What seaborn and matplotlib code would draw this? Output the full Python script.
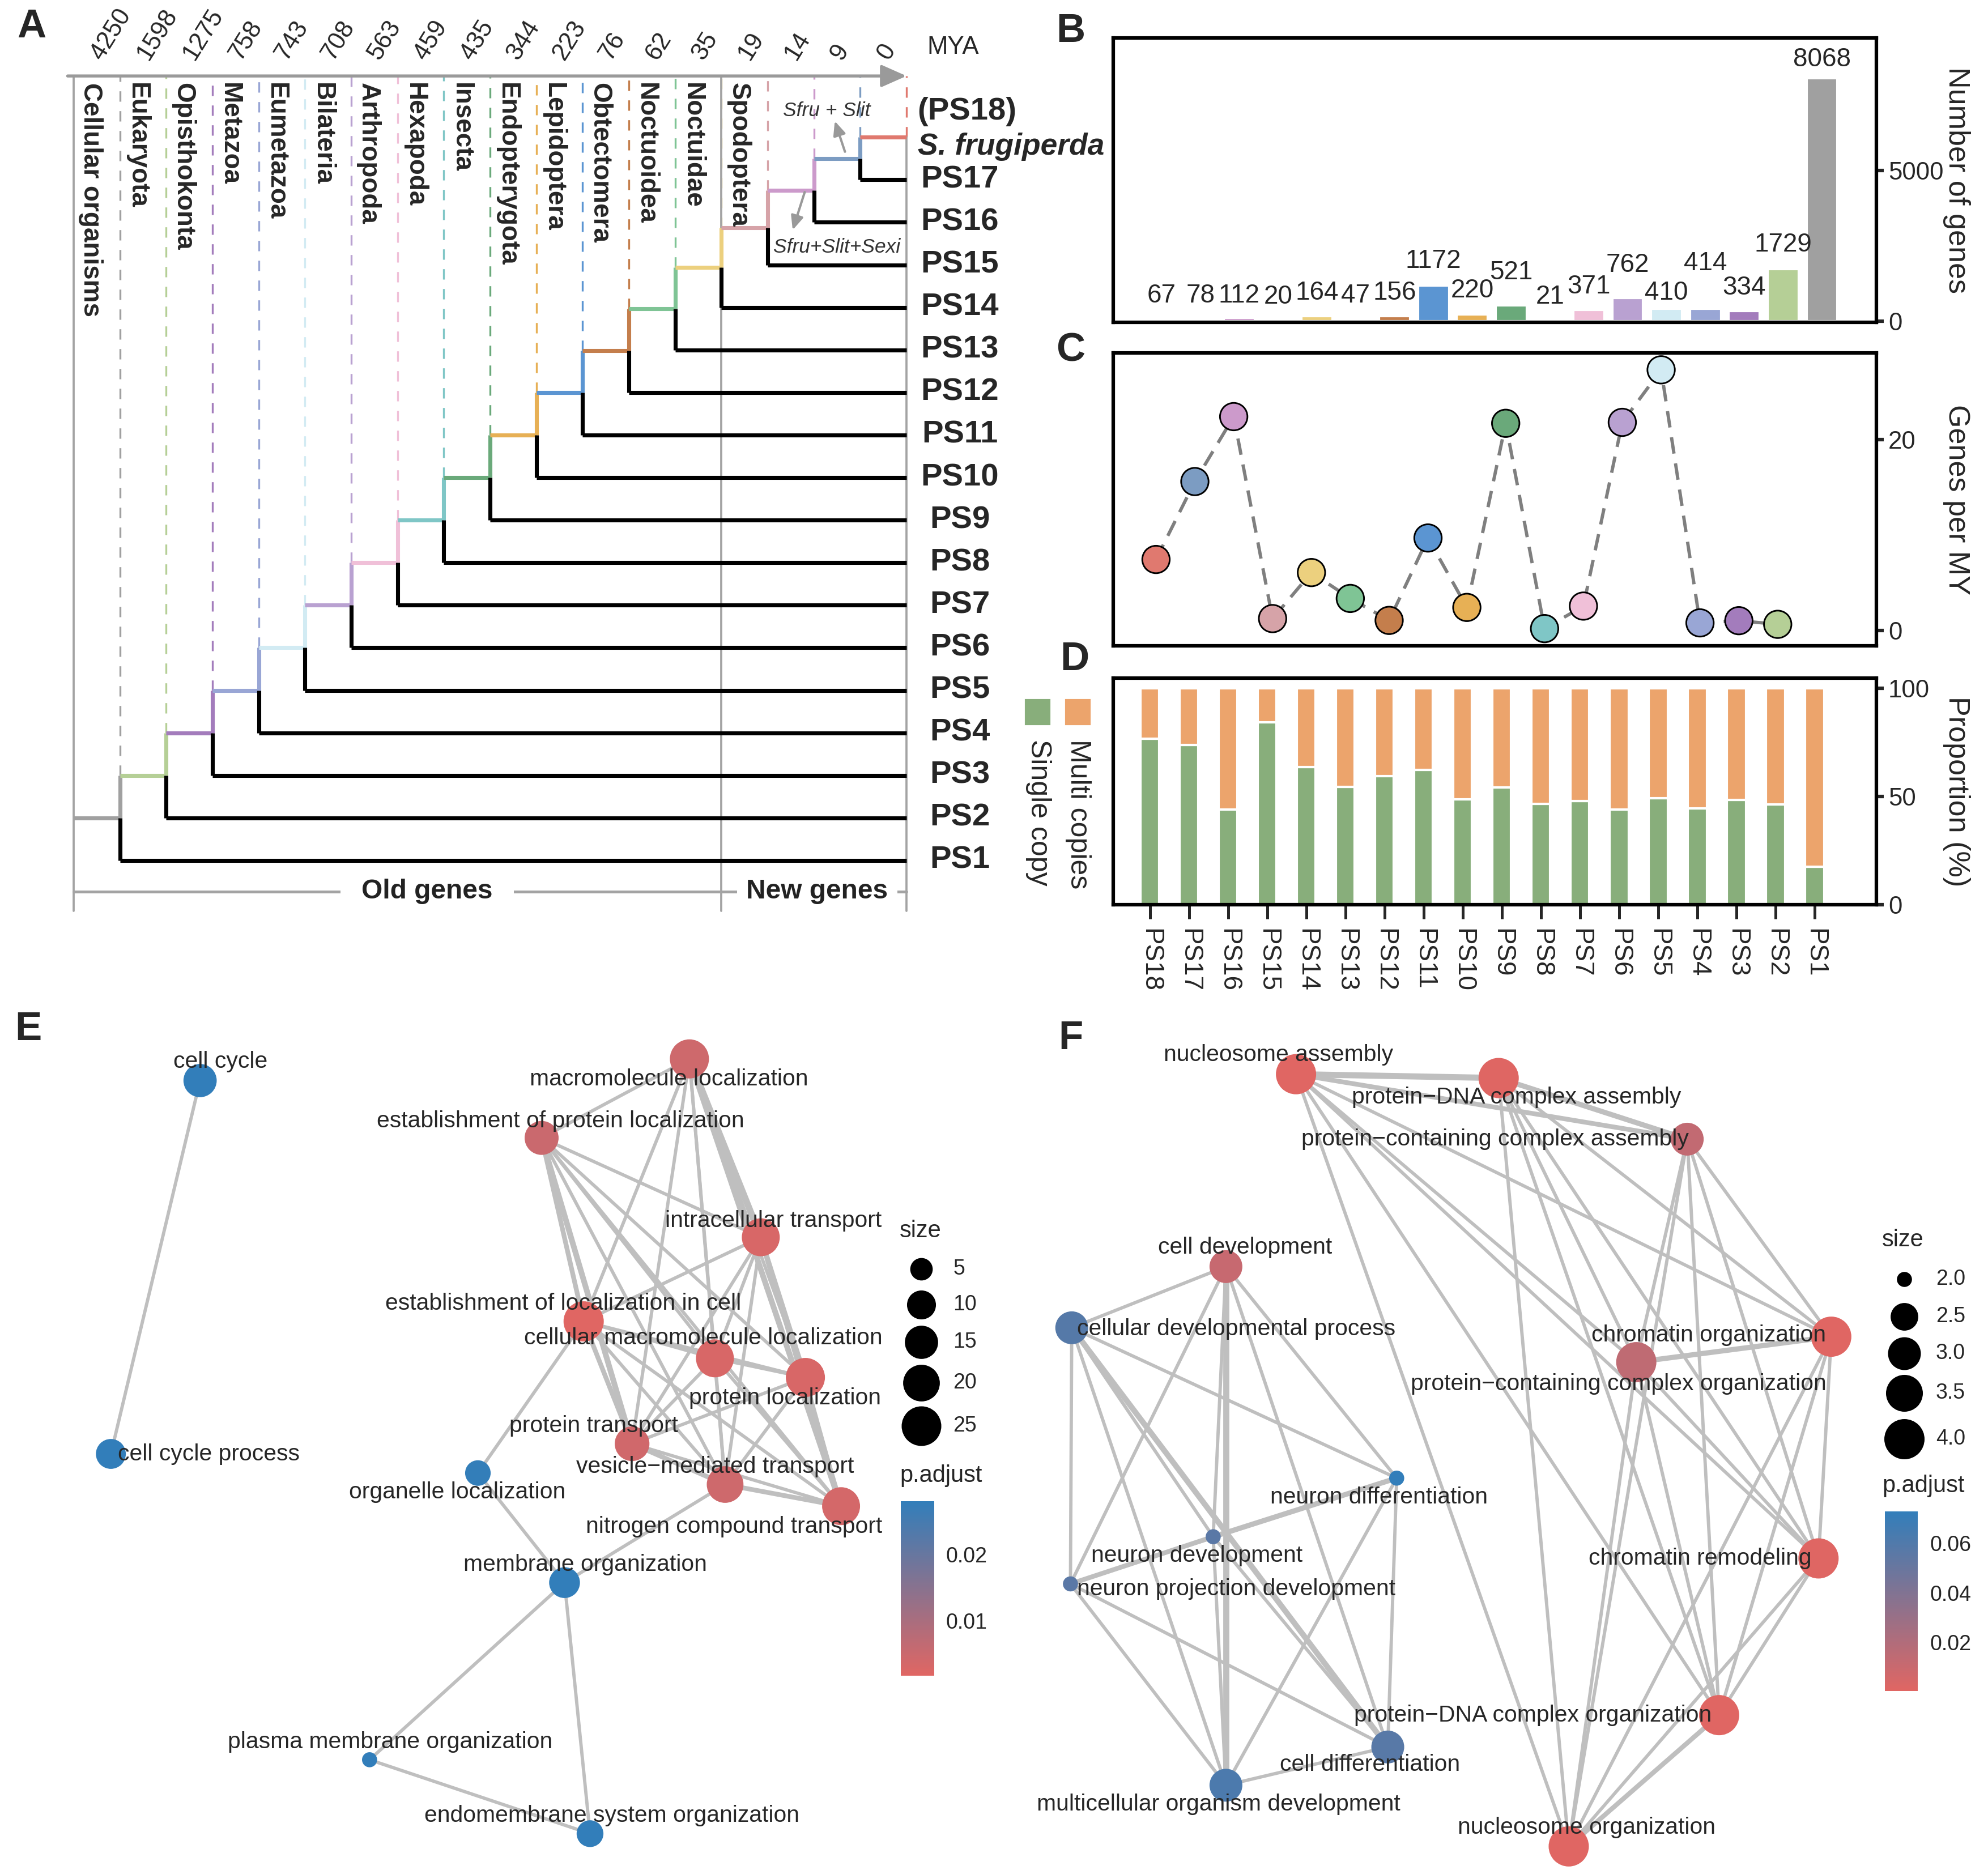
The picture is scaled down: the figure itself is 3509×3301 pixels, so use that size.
import numpy as np
import matplotlib
matplotlib.use("Agg")
import matplotlib.pyplot as plt
import matplotlib.colors as mcolors
from matplotlib.cm import ScalarMappable
from matplotlib.patches import Rectangle
import seaborn as sns

sns.set_style("white")
plt.rcParams['font.family'] = ['Liberation Sans', 'DejaVu Sans']

# ---------------- data ----------------
ps_order = ['PS18', 'PS17', 'PS16', 'PS15', 'PS14', 'PS13', 'PS12', 'PS11', 'PS10',
            'PS9', 'PS8', 'PS7', 'PS6', 'PS5', 'PS4', 'PS3', 'PS2', 'PS1']
ps_colors = ['#e0796f', '#7c9cc2', '#cc9acb', '#d6a3a8', '#ecd07e', '#7fc495', '#c47e4c',
             '#5b95d2', '#e7b055', '#6aa97a', '#7fc6c6', '#f0c0d8', '#b9a1d1', '#d2ebf3',
             '#99a6d5', '#a37cbc', '#b5cf96', '#a0a0a0']

# panel A
mya_ticks = [4250, 1598, 1275, 758, 743, 708, 563, 459, 435, 344, 223, 76, 62, 35, 19, 14, 9, 0]
taxa = ['Cellular organisms', 'Eukaryota', 'Opisthokonta', 'Metazoa', 'Eumetazoa', 'Bilateria',
        'Arthropoda', 'Hexapoda', 'Insecta', 'Endopterygota', 'Lepidoptera', 'Obtectomera',
        'Noctuoidea', 'Noctuidae', 'Spodoptera']

# panel B
gene_counts = [67, 78, 112, 20, 164, 47, 156, 1172, 220, 521, 21, 371, 762, 410, 414, 334, 1729, 8068]
# where each count label sits (same units as the counts)
count_label_y = [847, 847, 847, 805, 932, 847, 932, 1992, 1017, 1610, 805, 1144, 1864, 932,
                 1907, 1102, 2542, 8686]

# panel C (PS18..PS2)
genes_per_my = [7.44, 15.6, 22.4, 1.25, 6.07, 3.36, 1.06, 9.69, 2.42, 21.7, 0.2, 2.56, 21.8,
                27.3, 0.8, 1.03, 0.65]

# panel D
single_copy = [76.7, 73.7, 44.1, 84.3, 63.5, 54.5, 59.5, 62.2, 48.7, 54.3, 46.5, 48.0, 43.9,
               49.1, 44.5, 48.5, 46.3, 17.5]
multi_copy = [23.3, 26.3, 55.9, 15.7, 36.5, 45.5, 40.5, 37.8, 51.3, 45.7, 53.5, 52.0, 56.1,
              50.9, 55.5, 51.5, 53.7, 82.5]

# panel E network
e_terms = ['cell cycle', 'cell cycle process', 'macromolecule localization',
           'establishment of protein localization', 'intracellular transport',
           'establishment of localization in cell', 'cellular macromolecule localization',
           'protein localization', 'protein transport', 'vesicle\u2212mediated transport',
           'nitrogen compound transport', 'organelle localization', 'membrane organization',
           'plasma membrane organization', 'endomembrane system organization']
e_x = [157, 87, 541, 425, 597, 458, 561, 632, 496, 569, 660, 375, 443, 290, 463]
e_y = [848, 1141, 831, 893, 971, 1037, 1066, 1081, 1133, 1165, 1182, 1156, 1242, 1381, 1439]
e_size = [15, 11, 24, 16, 22, 26, 22, 24, 17, 20, 22, 7, 12, 3, 8]
e_padj = [0.0281, 0.0281, 0.0045, 0.0050, 0.0030, 0.0017, 0.0030, 0.0030, 0.0042, 0.0045,
          0.0035, 0.0278, 0.0281, 0.0281, 0.0281]
e_lab_x = [173, 164, 525, 440, 607, 442, 552, 616, 466, 561, 576, 359, 459, 306, 480]
e_lab_y = [833, 1141, 847, 880, 958, 1023, 1050, 1097, 1119, 1151, 1198, 1171, 1228, 1367, 1425]
e_cluster = [2, 3, 4, 5, 6, 7, 8, 9, 10]
e_extra_edges = [(0, 1), (5, 11), (9, 12), (11, 12), (12, 13), (12, 14), (13, 14)]
e_thick = {(2, 4): 2.8, (2, 10): 2.4, (3, 8): 2.4, (4, 10): 2.2, (4, 7): 2.0, (3, 5): 2.0,
           (5, 8): 2.0, (8, 9): 2.0, (9, 10): 2.0}

# panel F network
f_terms = ['nucleosome assembly', 'protein\u2212DNA complex assembly',
           'protein\u2212containing complex assembly', 'cell development',
           'cellular developmental process', 'chromatin organization',
           'protein\u2212containing complex organization', 'neuron differentiation',
           'neuron development', 'neuron projection development', 'chromatin remodeling',
           'protein\u2212DNA complex organization', 'cell differentiation',
           'multicellular organism development', 'nucleosome organization']
f_x = [1017, 1176, 1324, 962, 841, 1437, 1284, 1096, 952, 840, 1427, 1349, 1089, 962, 1231]
f_y = [843, 846, 894, 994, 1042, 1049, 1069, 1160, 1206, 1243, 1223, 1346, 1371, 1401, 1449]
f_size = [4, 4, 3, 3, 3, 4, 4, 2, 2, 2, 4, 4, 3, 3, 4]
f_padj = [0.0005, 0.0008, 0.013, 0.011, 0.058, 0.0003, 0.014, 0.073, 0.056, 0.056, 0.0006,
          0.0004, 0.057, 0.062, 0.0005]
f_lab_x = [1003, 1190, 1173, 977, 970, 1341, 1270, 1082, 939, 970, 1334, 1203, 1075, 956, 1245]
f_lab_y = [828, 861, 894, 979, 1043, 1048, 1086, 1175, 1221, 1247, 1223, 1346, 1385, 1416, 1434]
f_clusters = [[0, 1, 2, 5, 6, 10, 11, 14], [3, 4, 7, 8, 9, 12, 13]]
f_thick = {(0, 1): 2.6, (1, 2): 2.2, (3, 13): 2.6, (4, 12): 2.4, (7, 8): 2.2, (8, 9): 2.0,
           (5, 6): 2.2, (0, 2): 2.0, (11, 14): 2.0}

# ---------------- figure ----------------
W, H = 3509, 3301
S = W / 1560.0
fig = plt.figure(figsize=(W / 300, H / 300), dpi=300)


def px_axes(x0, y0, x1, y1):
    return fig.add_axes([x0 / W, 1 - y1 / H, (x1 - x0) / W, (y1 - y0) / H])


# ---------------- panel A: phylostratigraphy tree ----------------
axA = px_axes(0, 0, 1960, 1680)
axA.set_xlim(-130 / 81.67, (1960 - 130) / 81.67)
axA.set_ylim(-1.144, 21.226)
axA.axis('off')


def ps_col(k):
    return ps_colors[18 - k]


top = 19.44
grey = '#a3a3a3'
node_y = np.zeros(19)
node_y[18] = 18
for k in range(17, 0, -1):
    node_y[k] = (k + node_y[k + 1]) / 2

lw_tree = 1.7
dash = (0, (5.5, 5))
for k in range(1, 18):
    axA.plot([k, k], [node_y[k + 1], top], color=ps_col(k), lw=0.8, ls=dash, zorder=1)
axA.plot([18, 18], [18, top], color=ps_col(18), lw=0.8, ls=dash, zorder=1)
for k in (0, 14):
    axA.plot([k, k], [-0.19, top], color=grey, lw=0.9, zorder=2)
axA.plot([18, 18], [-0.19, 18], color=grey, lw=0.9, zorder=2)

axA.plot([0, 1], [node_y[1]] * 2, color=ps_col(1), lw=lw_tree, solid_capstyle='butt', zorder=3)
for k in range(1, 18):
    axA.plot([k, k], [node_y[k], node_y[k + 1]], color=ps_col(k), lw=lw_tree,
             solid_capstyle='butt', zorder=3)
    axA.plot([k, k], [k, node_y[k]], color='black', lw=lw_tree, solid_capstyle='butt', zorder=4)
    axA.plot([k, k + 1], [node_y[k + 1]] * 2, color=ps_col(k + 1), lw=lw_tree,
             solid_capstyle='butt', zorder=3)
    axA.plot([k, 18], [k, k], color='black', lw=lw_tree, solid_capstyle='butt', zorder=4)

axA.annotate('', xy=(18.0, top), xytext=(-0.13, top),
             arrowprops=dict(arrowstyle='-|>,head_length=0.9,head_width=0.4', color='#9a9a9a',
                             lw=1.3, shrinkA=0, shrinkB=0), zorder=5)
for k, t in enumerate(mya_ticks, start=1):
    axA.text(k - 0.3, top + 0.28, str(t), rotation=58, rotation_mode='anchor',
             ha='left', va='bottom', fontsize=10.5)
axA.text(18.45, 20.12, 'MYA', fontsize=10.5, ha='left', va='center')

for k, name in enumerate(taxa):
    axA.text(k + 0.37, 19.28, name, rotation=-90, ha='center', va='top',
             fontsize=11, fontweight='bold')

for k in range(1, 18):
    axA.text(19.15, k, ps_order[18 - k], ha='center', va='center', fontsize=13.5,
             fontweight='bold')
axA.text(18.24, 18.6, '(PS18)', ha='left', va='center', fontsize=13.5, fontweight='bold')
axA.text(18.24, 17.78, 'S. frugiperda', ha='left', va='center', fontsize=12.8,
         fontweight='bold', style='italic')

axA.text(16.27, 18.62, 'Sfru + Slit', ha='center', va='center', fontsize=8.5,
         style='italic', color='#333333')
axA.annotate('', xy=(16.45, 18.38), xytext=(16.67, 17.66),
             arrowprops=dict(arrowstyle='-|>,head_length=0.5,head_width=0.22', color='#999999',
                             lw=1.0, shrinkA=0, shrinkB=0))
axA.text(16.5, 15.42, 'Sfru+Slit+Sexi', ha='center', va='center', fontsize=8.5,
         style='italic', color='#333333')
axA.annotate('', xy=(15.54, 15.82), xytext=(15.8, 16.71),
             arrowprops=dict(arrowstyle='-|>,head_length=0.5,head_width=0.22', color='#999999',
                             lw=1.0, shrinkA=0, shrinkB=0))

axA.plot([0, 18], [0.27, 0.27], color=grey, lw=1.2, zorder=2)
axA.text(7.64, 0.27, 'Old genes', ha='center', va='center', fontsize=11.5, fontweight='bold',
         color='#222222', bbox=dict(facecolor='white', edgecolor='none', pad=9), zorder=3)
axA.text(16.07, 0.27, 'New genes', ha='center', va='center', fontsize=11.5, fontweight='bold',
         color='#222222', bbox=dict(facecolor='white', edgecolor='none', pad=4), zorder=3)


def right_axis(ax, label):
    for sp in ax.spines.values():
        sp.set_visible(True)
        sp.set_color('black')
        sp.set_linewidth(1.5)
    ax.yaxis.tick_right()
    ax.tick_params(axis='y', which='both', direction='out', length=3, width=1.5,
                   labelsize=10.5, pad=2, left=False, right=True)
    ax.set_ylabel(label, rotation=-90, fontsize=12.5, ha='center', va='center')
    ax.yaxis.set_label_position('right')
    ax.yaxis.set_label_coords(1.123, 0.5)
    ax.set_xlabel('')


# ---------------- panel B ----------------
axB = px_axes(1965, 67, 3312, 569)
sns.barplot(x=ps_order, y=gene_counts, hue=ps_order, palette=ps_colors, order=ps_order,
            hue_order=ps_order, legend=False, saturation=1, width=0.8, ax=axB)
for i, (v, ly) in enumerate(zip(gene_counts, count_label_y)):
    axB.text(i, ly, str(v), ha='center', va='center', fontsize=11)
axB.set_xlim(-1.24, 18.4)
axB.set_ylim(-42, 9400)
axB.set_yticks([0, 5000])
axB.set_xticks([])
right_axis(axB, 'Number of genes')

# ---------------- panel C ----------------
axC = px_axes(1965, 623, 3312, 1140)
sns.lineplot(x=ps_order[:17], y=genes_per_my, color='#7f7f7f', ls=(0, (5, 3)), lw=1.4,
             ax=axC, zorder=1)
sns.scatterplot(x=ps_order[:17], y=genes_per_my, hue=ps_order[:17], palette=ps_colors[:17],
                s=135, edgecolor='black', linewidth=0.7, legend=False, ax=axC, zorder=2)
axC.set_xlim(-1.10, 18.54)
axC.set_ylim(-1.6, 29.07)
axC.set_yticks([0, 20])
axC.set_xticks([])
right_axis(axC, 'Genes per MY')

# ---------------- panel D ----------------
green, orange = '#88ae7b', '#eca46c'
axD = px_axes(1965, 1197, 3312, 1597)
sns.barplot(x=ps_order, y=single_copy, color=green, saturation=1, width=0.48, order=ps_order,
            ax=axD)
axD.bar(np.arange(len(ps_order)), multi_copy, bottom=single_copy, color=orange, width=0.48)
axD.set_xlim(-0.94, 18.58)
axD.set_ylim(0, 104.7)
axD.set_yticks([0, 50, 100])
right_axis(axD, 'Proportion (%)')
axD.set_xticks(np.arange(len(ps_order)))
axD.set_xticklabels(ps_order, rotation=-90, fontsize=11)
axD.tick_params(axis='x', bottom=True, direction='out', length=6, width=1.2, pad=4)

# ---------------- overlay: panel letters, D legend ----------------
ov = fig.add_axes([0, 0, 1, 1])
ov.set_xlim(0, W)
ov.set_ylim(H, 0)
ov.axis('off')
for lab, (x, y) in zip('ABCDEF', [(56, 48), (1890, 56), (1890, 619), (1897, 1165),
                                   (50, 1818), (1890, 1834)]):
    ov.text(x, y, lab, fontsize=17, fontweight='bold', ha='center', va='center')
ov.add_patch(Rectangle((1811, 1236), 41, 42, color=green))
ov.add_patch(Rectangle((1882, 1236), 41, 42, color=orange))
ov.text(1833, 1305, 'Single copy', rotation=-90, ha='center', va='top', fontsize=12)
ov.text(1903, 1305, 'Multi copies', rotation=-90, ha='center', va='top', fontsize=12)

# ---------------- panels E and F: enrichment maps ----------------
cmap = mcolors.LinearSegmentedColormap.from_list('padj', ['#e06663', '#327eba'])


def node_area(v, vmin, vmax):
    d_px = 26.6 + 44.4 * np.sqrt((v - vmin) / (vmax - vmin))
    return (d_px * 72 / 300) ** 2


def net_axes(x0, y0, x1, y1):
    ax = px_axes(x0 * S, y0 * S, x1 * S, y1 * S)
    ax.set_xlim(x0, x1)
    ax.set_ylim(y1, y0)
    ax.axis('off')
    return ax


def draw_network(ax, xs, ys, sizes, padj, terms, lx, ly, edges, thick):
    for a, b in edges:
        w = thick.get((a, b), thick.get((b, a), 1.4))
        ax.plot([xs[a], xs[b]], [ys[a], ys[b]], color='#bfbfbf', lw=w, zorder=1,
                solid_capstyle='round')
    smin, smax = min(sizes), max(sizes)
    sns.scatterplot(x=xs, y=ys, hue=padj, palette=cmap, hue_norm=(min(padj), max(padj)),
                    size=sizes, sizes={v: node_area(v, smin, smax) for v in set(sizes)},
                    linewidth=0, legend=False, ax=ax, zorder=2)
    for t, x, y in zip(terms, lx, ly):
        ax.text(x, y, t, ha='center', va='center', fontsize=9.8, zorder=3)
    ax.set_xlabel('')
    ax.set_ylabel('')


def draw_legends(ax, x0, ytitle, ybreaks, breaks, fmt, smin, smax, cb_rect, ticks, padj):
    ax.text(x0, ytitle, 'size', fontsize=10, ha='left', va='center')
    for b, yb in zip(breaks, ybreaks):
        ax.scatter([x0 + 17], [yb], s=node_area(b, smin, smax), color='black', linewidth=0)
        ax.text(x0 + 42, yb, fmt.format(b), fontsize=9, ha='left', va='center')
    x1, y1, x2, y2 = cb_rect
    ax.text(x0, y1 - 20, 'p.adjust', fontsize=10, ha='left', va='center')
    cax = px_axes(x1 * S, y1 * S, x2 * S, y2 * S)
    cb = fig.colorbar(ScalarMappable(mcolors.Normalize(min(padj), max(padj)), cmap), cax=cax)
    cb.outline.set_visible(False)
    cb.set_ticks(ticks)
    cb.set_ticklabels([f'{t:.2f}' for t in ticks])
    cax.tick_params(direction='in', length=3, width=0.9, color='white', labelsize=9,
                    left=True, right=True, labelleft=False, labelright=True, pad=5)


axE = net_axes(0, 770, 778, 1467)
e_edges = [(a, b) for i, a in enumerate(e_cluster) for b in e_cluster[i + 1:]] + e_extra_edges
draw_network(axE, e_x, e_y, e_size, e_padj, e_terms, e_lab_x, e_lab_y, e_edges, e_thick)
draw_legends(axE, 706, 966, [996, 1024, 1053, 1085, 1119], [5, 10, 15, 20, 25], '{:d}',
             min(e_size), max(e_size), (707, 1178, 733, 1315), [0.01, 0.02], e_padj)

axF = net_axes(778, 770, 1560, 1467)
f_edges = [(a, b) for cl in f_clusters for i, a in enumerate(cl) for b in cl[i + 1:]]
draw_network(axF, f_x, f_y, f_size, f_padj, f_terms, f_lab_x, f_lab_y, f_edges, f_thick)
draw_legends(axF, 1477, 973, [1004, 1033, 1062, 1093, 1129], [2.0, 2.5, 3.0, 3.5, 4.0],
             '{:.1f}', min(f_size), max(f_size), (1479, 1186, 1505, 1327), [0.02, 0.04, 0.06],
             f_padj)

fig.savefig('out.png', dpi=300)
